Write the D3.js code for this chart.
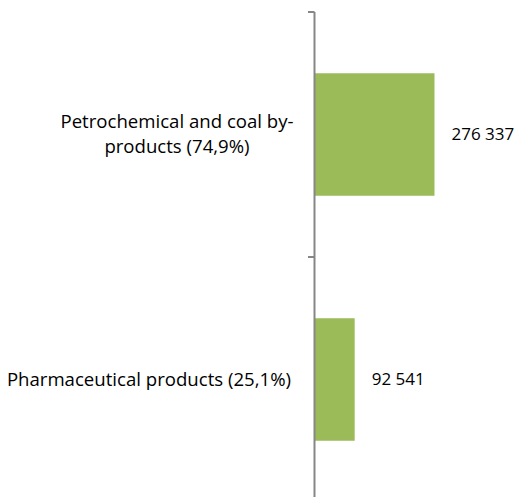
<!DOCTYPE html>
<html>
<head>
<meta charset="utf-8">
<script src="https://cdn.jsdelivr.net/npm/d3@7"></script>
<style>
  body { margin: 0; background: #fff; }
  text { font-family: "Open Sans", "Liberation Sans", Arial, sans-serif; }
</style>
</head>
<body>
<script>
const categories = ["Petrochemical and coal by-products (74,9%)", "Pharmaceutical products (25,1%)"];
const labelLines = [["Petrochemical and coal by-", "products (74,9%)"], ["Pharmaceutical products (25,1%)"]];
const values = [276337, 92541];
const valueLabels = ["276 337", "92 541"];

const W = 521, H = 497;
const axisX = 314.5;

const svg = d3.select("body").append("svg")
  .attr("width", W)
  .attr("height", H);

const y = d3.scaleBand()
  .domain(categories)
  .range([12, 502])
  .paddingInner(0.5)
  .paddingOuter(0.25);

const x = d3.scaleLinear()
  .domain([0, 276337])
  .range([axisX, 434.5]);

// bars
svg.selectAll("rect.bar")
  .data(values)
  .enter()
  .append("rect")
    .attr("class", "bar")
    .attr("x", axisX)
    .attr("y", (d, i) => y(categories[i]))
    .attr("width", d => x(d) - axisX)
    .attr("height", y.bandwidth())
    .attr("fill", "#9bbb59");

// axis line + ticks between categories
svg.append("line")
  .attr("x1", axisX).attr("x2", axisX)
  .attr("y1", 12).attr("y2", H)
  .attr("stroke", "#868686")
  .attr("stroke-width", 2);

const tickYs = [12, 502 - y.step()];
svg.selectAll("line.tick")
  .data(tickYs)
  .enter()
  .append("line")
    .attr("class", "tick")
    .attr("x1", 308).attr("x2", axisX)
    .attr("y1", d => d).attr("y2", d => d)
    .attr("stroke", "#868686")
    .attr("stroke-width", 2);

// category labels
const labels = svg.selectAll("text.cat")
  .data(categories)
  .enter()
  .append("text")
    .attr("class", "cat")
    .attr("font-size", "18.6px")
    .attr("fill", "#000")
    .attr("text-anchor", (d, i) => labelLines[i].length > 1 ? "middle" : "end")
    .attr("x", (d, i) => labelLines[i].length > 1 ? 177 : 291)
    .attr("y", (d, i) => y(d) + y.bandwidth() / 2 - (labelLines[i].length - 1) * 12.5 + 6);

labels.each(function(d, i) {
  const t = d3.select(this);
  const x0 = t.attr("x");
  labelLines[i].forEach((ln, j) => {
    t.append("tspan")
      .attr("x", x0)
      .attr("dy", j === 0 ? 0 : 25)
      .text(ln);
  });
});

// value labels
svg.selectAll("text.val")
  .data(values)
  .enter()
  .append("text")
    .attr("class", "val")
    .attr("font-size", "17px")
    .attr("fill", "#000")
    .attr("x", d => x(d) + 17)
    .attr("y", (d, i) => y(categories[i]) + y.bandwidth() / 2 + 5)
    .text((d, i) => valueLabels[i]);
</script>
</body>
</html>
